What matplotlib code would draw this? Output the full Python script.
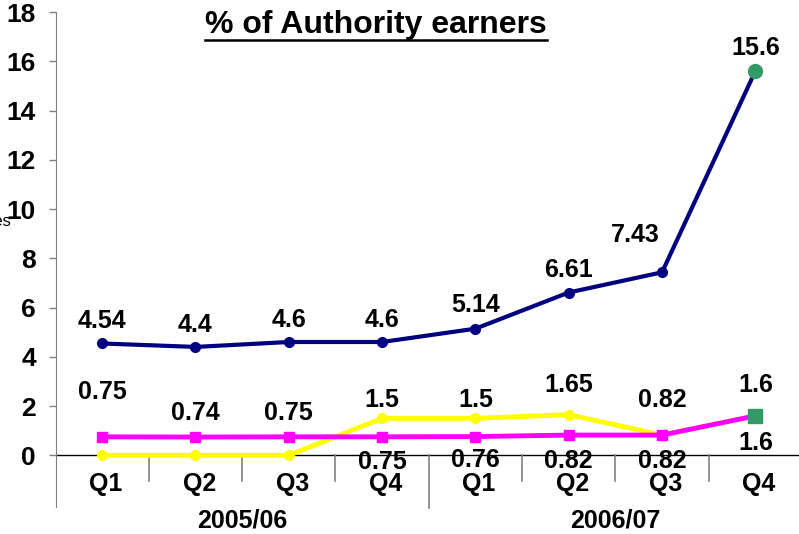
import matplotlib
matplotlib.use("Agg")
import matplotlib.pyplot as plt

quarters = ["Q1", "Q2", "Q3", "Q4", "Q1", "Q2", "Q3", "Q4"]
years = ["2005/06", "2006/07"]
navy_vals = [4.54, 4.4, 4.6, 4.6, 5.14, 6.61, 7.43, 15.6]
magenta_vals = [0.75, 0.74, 0.75, 0.75, 0.76, 0.82, 0.82, 1.6]
yellow_vals = [0, 0, 0, 1.5, 1.5, 1.65, 0.82, 1.6]
yticks = [0, 2, 4, 6, 8, 10, 12, 14, 16, 18]

plt.rcParams['font.family'] = ['Liberation Sans', 'DejaVu Sans']

W, H = 799, 534
fig = plt.figure(figsize=(W / 100, H / 100), dpi=100)
ax = fig.add_axes([55.5 / W, 1 - 507 / H, (802 - 55.5) / W, (507 - 12) / H])

x = list(range(len(quarters)))
green = "#339966"

ax.plot(x, yellow_vals, color="#FFFF00", lw=3.5, marker="o", ms=7, zorder=3, clip_on=False)
ax.plot(x, magenta_vals, color="#FF00FF", lw=3.5, marker="s", ms=7, zorder=3, clip_on=False)
ax.plot(x, navy_vals, color="#000080", lw=3, marker="o", ms=7, zorder=4, clip_on=False)
ax.plot([x[-1]], [navy_vals[-1]], marker="o", ms=10, color=green, zorder=5, clip_on=False)
ax.plot([x[-1]], [magenta_vals[-1]], marker="s", ms=9.5, color=green, zorder=5, clip_on=False)

ax.set_xlim(-0.5, len(quarters) - 0.5)
ax.set_ylim(-2.1, 18)
ax.set_yticks(yticks)
ax.set_yticklabels([str(v) for v in yticks], fontsize=19, fontweight="bold")
ax.tick_params(axis="y", length=5, width=1, color="#808080", pad=9)
ax.set_xticks([])
for s in ["top", "right", "bottom"]:
    ax.spines[s].set_visible(False)
ax.spines["left"].set_color("#808080")
ax.axhline(0, color="black", lw=1, zorder=2)

# separators
for i in range(1, len(quarters)):
    lo = -2.15 if i == 4 else -1.05
    ax.plot([i - 0.5, i - 0.5], [0, lo], color="#808080", lw=1.2, clip_on=False)

lab_kw = dict(fontsize=18, fontweight="bold", ha="center", va="center")
for i, q in enumerate(quarters):
    ax.text(i + 0.04, -1.15, q, **lab_kw)
ax.text(1.5, -2.65, years[0], **lab_kw)
ax.text(5.5, -2.65, years[1], **lab_kw)

# data labels
navy_off = [0.91, 0.91, 0.91, 0.91, 0.96, 0.91, 1.51, 0.94]
navy_dx = [0, 0, 0, 0, 0, 0, -0.29, 0]
for i, v in enumerate(navy_vals):
    ax.text(i + navy_dx[i], v + navy_off[i], f"{v:g}", **lab_kw)

mag_pos = [2.56, 1.7, 1.7, -0.28, -0.2, -0.24, -0.24, 0.49]
for i, v in enumerate(magenta_vals):
    ax.text(i, mag_pos[i], f"{v:g}", **lab_kw)

yel_pos = [None, None, None, 2.24, 2.24, 2.85, 2.24, 2.85]
for i, v in enumerate(yellow_vals):
    if yel_pos[i] is not None:
        ax.text(i, yel_pos[i], f"{v:g}", **lab_kw)

fig.text(376 / W, 1 - 25 / H, "% of Authority earners", fontsize=23, fontweight="bold",
         ha="center", va="center")
fig.add_artist(plt.Line2D([205 / W, 547 / W], [1 - 39.5 / H, 1 - 39.5 / H], color="black", lw=1.8))

fig.text(12 / W, 1 - 222 / H, "Values", fontsize=12, ha="right", va="center")

fig.savefig("out.png", dpi=100)
